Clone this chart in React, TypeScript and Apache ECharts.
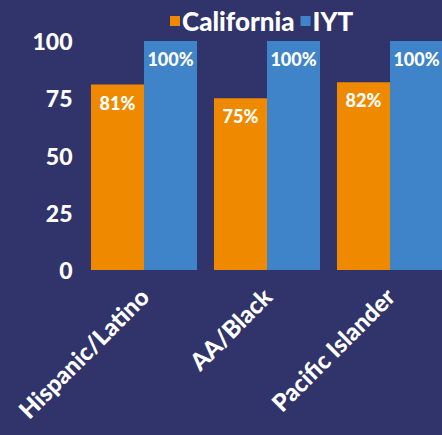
import React, { useEffect, useRef } from "react";
import * as echarts from "echarts";

const categories = ["Hispanic/Latino", "AA/Black", "Pacific Islander"];
const californiaValues = [81, 75, 82];
const iytValues = [100, 100, 100];
const yTicks = [0, 25, 50, 75, 100];

const BG = "#31346A";
const ORANGE = "#EF8A00";
const BLUE = "#3F84C8";
const FONT = "Lato";

export default function App() {
  const ref = useRef<HTMLDivElement>(null);
  useEffect(() => {
    if (!ref.current) return;
    const chart = echarts.init(ref.current, undefined, { renderer: "svg" });
    const label = {
      show: true,
      position: "insideTop",
      distance: 9,
      color: "#fff",
      fontFamily: FONT,
      fontWeight: 900,
      fontSize: 18,
      formatter: (p: any) => `${p.value}%`,
    };
    chart.setOption({
      animation: false,
      backgroundColor: BG,
      textStyle: { fontFamily: FONT },
      legend: {
        left: 165,
        top: 3,
        itemWidth: 10,
        itemHeight: 10,
        itemGap: 6,
        icon: "rect",
        textStyle: {
          color: "#fff",
          fontFamily: FONT,
          fontWeight: 900,
          fontSize: 26,
          padding: [0, 0, 0, -3],
        },
        data: ["California", "IYT"],
      },
      grid: { left: 82.5, width: 369, top: 41, bottom: 165, containLabel: false },
      xAxis: {
        type: "category",
        data: categories,
        axisLine: { show: false },
        axisTick: { show: false },
        axisLabel: {
          rotate: 45,
          margin: 22,
          color: "#fff",
          fontFamily: FONT,
          fontWeight: 900,
          fontSize: 24,
          interval: 0,
        },
      },
      yAxis: {
        type: "value",
        min: yTicks[0],
        max: yTicks[yTicks.length - 1],
        interval: 25,
        splitLine: { show: false },
        axisLine: { show: false },
        axisTick: { show: false },
        axisLabel: {
          margin: 10,
          color: "#fff",
          fontFamily: FONT,
          fontWeight: 900,
          fontSize: 23,
        },
      },
      series: [
        {
          name: "California",
          type: "bar",
          data: californiaValues,
          itemStyle: { color: ORANGE },
          barGap: "0%",
          barCategoryGap: "13.8%",
          label,
        },
        {
          name: "IYT",
          type: "bar",
          data: iytValues,
          itemStyle: { color: BLUE },
          barGap: "0%",
          barCategoryGap: "13.8%",
          label,
        },
      ],
    });
    return () => chart.dispose();
  }, []);
  return (
    <div
      style={{
        position: "fixed",
        left: 0,
        top: 0,
        width: 442,
        height: 435,
        overflow: "hidden",
        background: BG,
      }}
    >
      <div ref={ref} style={{ width: 460, height: 435 }} />
    </div>
  );
}
